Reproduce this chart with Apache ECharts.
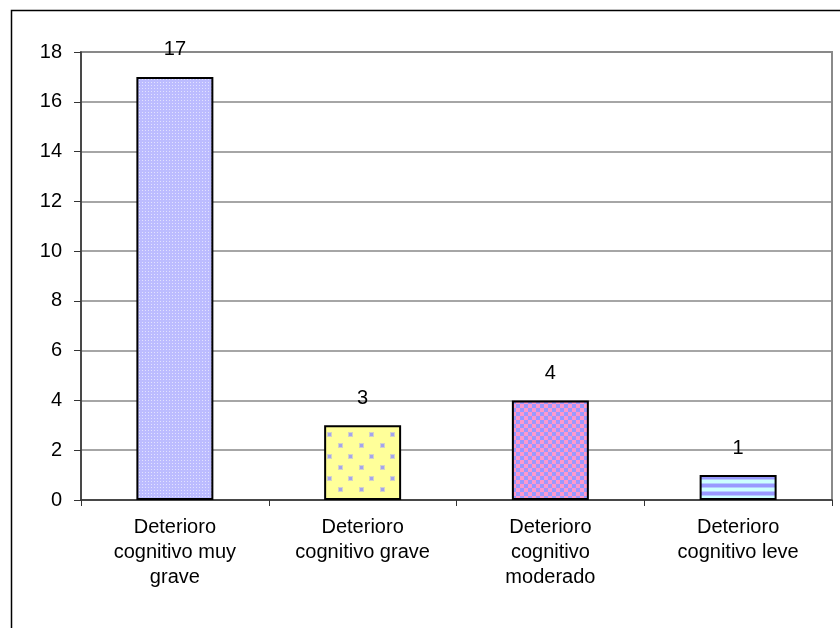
<!DOCTYPE html>
<html>
<head>
<meta charset="utf-8">
<script src="https://cdn.jsdelivr.net/npm/echarts@6/dist/echarts.min.js"></script>
<style>
  html, body { margin: 0; padding: 0; background: #fff; }
  #chart { width: 840px; height: 628px; }
</style>
</head>
<body>
<div id="chart"></div>
<script>
// Categories and counts
const categories = [
  'Deterioro\ncognitivo muy\ngrave',
  'Deterioro\ncognitivo grave',
  'Deterioro\ncognitivo\nmoderado',
  'Deterioro\ncognitivo leve'
];
const counts = [17, 3, 4, 1];
const yTicks = [0, 2, 4, 6, 8, 10, 12, 14, 16, 18];

// Small tiled fill patterns, one per bar
function tile(w, h, draw) {
  const c = document.createElement('canvas');
  c.width = w; c.height = h;
  const ctx = c.getContext('2d');
  draw(ctx);
  return { image: c, repeat: 'repeat' };
}
const patterns = [
  // fine lavender dotted grid
  tile(3, 3, ctx => {
    ctx.fillStyle = '#bcbcff'; ctx.fillRect(0, 0, 3, 3);
    ctx.fillStyle = '#e2e2ff'; ctx.fillRect(1, 1, 1, 1);
  }),
  // yellow with sparse staggered blue dots
  tile(21, 22, ctx => {
    ctx.fillStyle = '#ffff99'; ctx.fillRect(0, 0, 21, 22);
    const dot = (x, y) => {
      ctx.fillStyle = '#d2d2c8'; ctx.fillRect(x - 1, y - 1, 5, 5);
      ctx.fillStyle = '#a4a4ee'; ctx.fillRect(x, y, 3, 3);
    };
    dot(3, 4); dot(13, 15);
  }),
  // pink / blue checkerboard
  tile(8, 8, ctx => {
    ctx.fillStyle = '#ff99cc'; ctx.fillRect(0, 0, 8, 8);
    ctx.fillStyle = '#9999ff';
    ctx.fillRect(0, 0, 4, 4); ctx.fillRect(4, 4, 4, 4);
  }),
  // horizontal cyan / blue stripes
  tile(8, 8, ctx => {
    ctx.fillStyle = '#ccffff'; ctx.fillRect(0, 0, 8, 8);
    ctx.fillStyle = '#b3ccff'; ctx.fillRect(0, 3, 8, 1); ctx.fillRect(0, 7, 8, 1);
    ctx.fillStyle = '#9999ff'; ctx.fillRect(0, 4, 8, 3);
  })
];

const FONT = '"Liberation Sans", Arial, sans-serif';

const chart = echarts.init(document.getElementById('chart'), null, { renderer: 'canvas' });
chart.setOption({
  animation: false,
  backgroundColor: '#ffffff',
  graphic: [{
    type: 'rect',
    shape: { x: 11.5, y: 10.5, width: 900, height: 700 },
    style: { fill: 'none', stroke: '#000000', lineWidth: 1.5 },
    z: 100
  }],
  grid: {
    left: 81, right: 8, top: 52, bottom: 128,
    show: true, borderColor: '#8a8a8a', borderWidth: 2, backgroundColor: 'transparent'
  },
  xAxis: {
    type: 'category',
    data: categories,
    axisLine: { lineStyle: { color: '#333', width: 1.5 } },
    axisTick: { show: true, length: 6, inside: false, alignWithLabel: false, lineStyle: { color: '#333' } },
    axisLabel: {
      color: '#000', fontFamily: FONT, fontSize: 20, lineHeight: 25, margin: 15, interval: 0
    }
  },
  yAxis: {
    type: 'value',
    min: 0, max: 18, interval: 2,
    axisLine: { show: true, lineStyle: { color: '#333', width: 1.5 } },
    axisTick: { show: true, length: 7, lineStyle: { color: '#333' } },
    axisLabel: {
      color: '#000', fontFamily: FONT, fontSize: 20, margin: 19,
      formatter: v => (yTicks.includes(v) ? String(v) : '')
    },
    splitLine: { lineStyle: { color: '#888', width: 1.5 } }
  },
  series: [{
    type: 'bar',
    barWidth: '41%',
    data: counts.map((v, i) => ({
      value: v,
      itemStyle: { color: patterns[i], borderColor: '#000', borderWidth: 2 }
    })),
    label: {
      show: true, position: 'top', distance: 17,
      color: '#000', fontFamily: FONT, fontSize: 20
    }
  }]
});
</script>
</body>
</html>
